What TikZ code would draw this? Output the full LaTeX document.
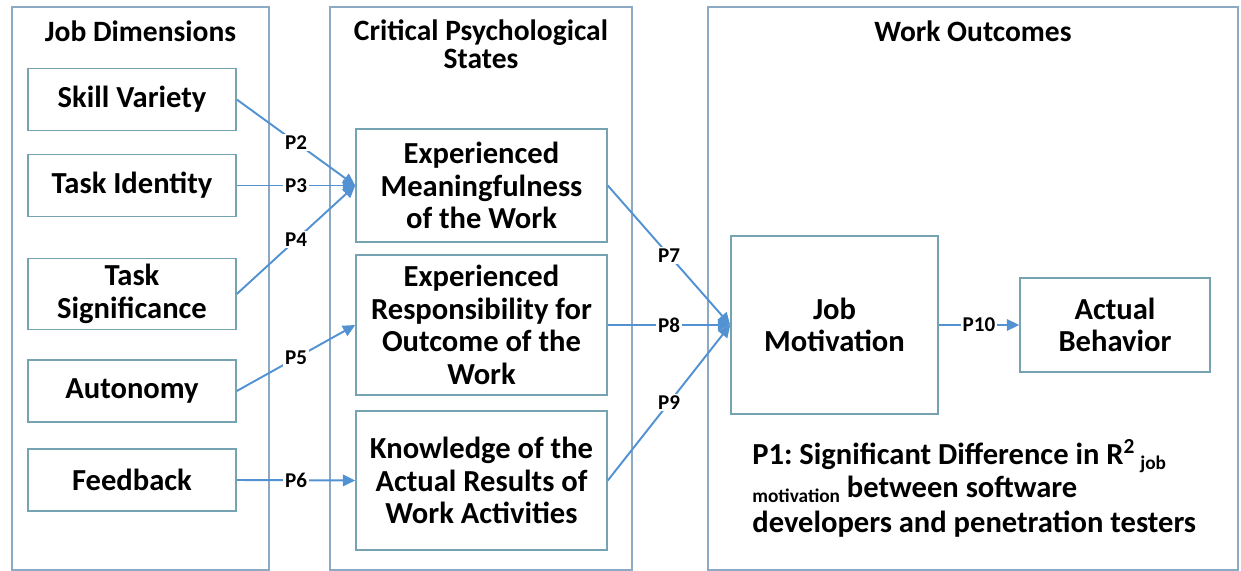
\documentclass[tikz,border=0pt]{standalone}
\usepackage{fontspec}
\setmainfont{Carlito}
\usetikzlibrary{arrows.meta}
\frenchspacing

\definecolor{boxline}{RGB}{118,163,178}
\definecolor{grpline}{RGB}{140,170,196}
\definecolor{flowcol}{RGB}{82,146,210}

\tikzset{
  grp/.style={draw=grpline,line width=0.9pt},
  hdr/.style={font=\fontsize{16.8}{15.8}\selectfont\bfseries,align=center},
  dimbox/.style={draw=boxline,line width=0.9pt,minimum width=4.16cm,minimum height=1.24cm,
    align=center,font=\fontsize{17.4}{18.5}\selectfont\bfseries},
  statebox/.style={dimbox,minimum width=5.02cm},
  flow/.style={draw=flowcol,line width=1.1pt,-{Triangle[length=7pt,width=6.5pt]}},
  plab/.style={fill=white,inner sep=1pt,font=\fontsize{12}{13}\selectfont\bfseries},
}
\newcommand{\lowsub}[1]{\raisebox{-0.35ex}{\fontsize{11}{12}\selectfont #1}}

\begin{document}
\begin{tikzpicture}[x=0.02cm,y=-0.02cm]
  \useasboundingbox (0,0) rectangle (1241,571);
  % the three columns
  \draw[grp] (12,7) rectangle (269,570);
  \draw[grp] (330,7) rectangle (632,570);
  \draw[grp] (708,7) rectangle (1238,570);
  \node[hdr] (hjob) at (140.5,31) {Job Dimensions};
  \node[hdr] (hstate) at (481,44) {Critical Psychological\\States};
  \node[hdr] (hout) at (973,31) {Work Outcomes};

  % job dimensions
  \node[dimbox] (skill) at (132,99.5) {Skill Variety};
  \node[dimbox] (ident) at (132,185.5) {Task Identity};
  \node[dimbox] (signif) at (132,294) {Task\\Significance};
  \node[dimbox] (auton) at (132,391) {Autonomy};
  \node[dimbox] (feedb) at (132,480) {Feedback};

  % psychological states
  \node[statebox,minimum height=2.26cm] (mean) at (481.5,185.5) {Experienced\\Meaningfulness\\of the Work};
  \node[statebox,minimum height=2.8cm] (resp) at (481.5,325) {Experienced\\Responsibility for\\Outcome of the\\Work};
  \node[statebox,minimum height=2.78cm] (know) at (481.5,480.5) {Knowledge of the\\Actual Results of\\Work Activities};

  % outcomes
  \node[dimbox,minimum width=4.14cm,minimum height=3.56cm] (motiv) at (834.5,325) {Job\\Motivation};
  \node[dimbox,minimum width=3.8cm,minimum height=1.88cm] (behav) at (1115,325) {Actual\\Behavior};
  \node[anchor=north west,align=left,inner sep=0pt,font=\fontsize{17.4}{18.8}\selectfont\bfseries] (pone) at (752,439)
    {P1: Significant Difference in R\textsuperscript{2}\,\lowsub{job}\\
     \lowsub{motivation} between software\\[1pt]
     developers and penetration testers};

  % paths
  \foreach \a/\b/\p in {skill/mean/P2,ident/mean/P3,signif/mean/P4,auton/resp/P5,feedb/know/P6,
                        mean/motiv/P7,resp/motiv/P8,know/motiv/P9,motiv/behav/P10}{
    \draw[flow] (\a.east) -- node[plab] {\p} (\b.west);
  }
\end{tikzpicture}
\end{document}
